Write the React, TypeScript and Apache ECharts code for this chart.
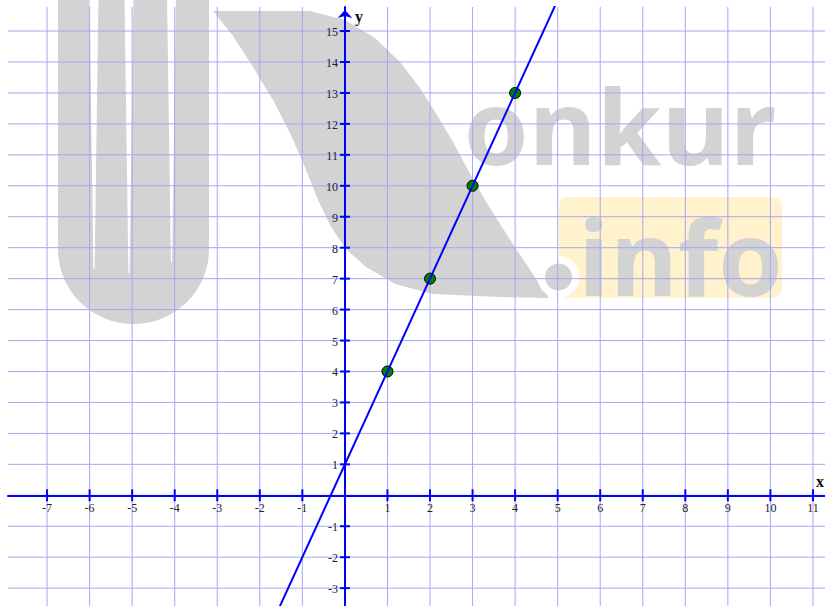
import React, { useEffect, useRef } from "react";
import * as echarts from "echarts";

// ---- data ----
const xTickValues = [-7, -6, -5, -4, -3, -2, -1, 1, 2, 3, 4, 5, 6, 7, 8, 9, 10, 11];
const yTickValues = [-3, -2, -1, 1, 2, 3, 4, 5, 6, 7, 8, 9, 10, 11, 12, 13, 14, 15];
const xGridValues = [-7, -6, -5, -4, -3, -2, -1, 0, 1, 2, 3, 4, 5, 6, 7, 8, 9, 10, 11];
const yGridValues = [-3, -2, -1, 0, 1, 2, 3, 4, 5, 6, 7, 8, 9, 10, 11, 12, 13, 14, 15];
const pointsX = [1, 2, 3, 4];
const pointsY = [4, 7, 10, 13];
const lineX = [-2, 5];
const lineY = [-5, 16];

// visible window of the axes
const XMIN = -7.918;
const XMAX = 11.283;
const YMIN = -3.577;
const YMAX = 15.777;

const GRID_COLOR = "#a6a6f6";
const AXIS_COLOR = "#0000ff";
const WM = "#d3d3d3";
const LABEL_FONT = "Liberation Serif";

export default function App() {
  const ref = useRef<HTMLDivElement>(null);

  useEffect(() => {
    if (!ref.current) return;
    const chart = echarts.init(ref.current, undefined, { renderer: "svg" });

    const slit = (cx: number, bottom: number) => ({
      type: "polygon",
      z: 0,
      silent: true,
      shape: {
        points: [
          [cx - 4.5, -5],
          [cx + 4.5, -5],
          [cx + 0.6, bottom],
          [cx - 0.6, bottom],
        ],
      },
      style: { fill: "#ffffff" },
    });

    const option: any = {
      animation: false,
      backgroundColor: "#ffffff",
      grid: {
        left: 8,
        top: 7,
        right: 0,
        bottom: 0,
        containLabel: false,
        outerBoundsMode: "none",
      },
      graphic: {
        elements: [
          {
            type: "rect",
            z: 0,
            silent: true,
            shape: { x: 58, y: -20, width: 151, height: 344, r: [0, 0, 75, 75] },
            style: { fill: WM },
          },
          slit(94, 269),
          slit(129, 273),
          slit(171.5, 262),
          {
            type: "polygon",
            z: 0,
            silent: true,
            shape: {
              points: [
                [213, 11], [310, 11], [345, 20], [375, 38], [400, 62], [420, 88],
                [437, 115], [453, 142], [468, 170], [485, 200], [507, 235],
                [525, 262], [540, 285], [549, 298], [500, 297], [433, 294],
                [395, 284], [366, 267], [345, 248], [330, 225], [318, 200],
                [305, 167], [290, 133], [273, 100], [253, 67], [233, 36],
              ],
            },
            style: { fill: WM },
          },
          {
            type: "text",
            z: 0,
            silent: true,
            x: 464,
            y: 124,
            style: {
              text: "onkur",
              fontFamily: "Open Sans",
              fontWeight: "bold",
              fontSize: 104,
              fill: WM,
              align: "left",
              verticalAlign: "middle",
            },
          },
          {
            type: "rect",
            z: 0,
            silent: true,
            shape: { x: 559, y: 197, width: 223, height: 101, r: 9 },
            style: { fill: "#fff2cc" },
          },
          {
            type: "circle",
            z: 0,
            silent: true,
            shape: { cx: 558.5, cy: 277, r: 21 },
            style: { fill: "#ffffff" },
          },
          {
            type: "circle",
            z: 0,
            silent: true,
            shape: { cx: 558.5, cy: 277, r: 13.5 },
            style: { fill: WM },
          },
          {
            type: "text",
            z: 0,
            silent: true,
            x: 578,
            y: 255,
            style: {
              text: "info",
              fontFamily: "Open Sans",
              fontWeight: "bold",
              fontSize: 104,
              fill: WM,
              align: "left",
              verticalAlign: "middle",
            },
          },
        ],
      },
      xAxis: {
        type: "value",
        min: XMIN,
        max: XMAX,
        z: 5,
        name: "x",
        nameLocation: "end",
        nameGap: -9,
        nameTextStyle: {
          fontFamily: LABEL_FONT,
          fontWeight: "bold",
          fontSize: 16,
          color: "#111",
          align: "left",
          verticalAlign: "bottom",
          padding: [0, 0, 6, 0],
        },
        axisLine: { onZero: true, lineStyle: { color: AXIS_COLOR, width: 2 } },
        axisTick: { show: false },
        splitLine: { show: false },
        axisLabel: { show: false },
      },
      yAxis: {
        type: "value",
        min: YMIN,
        max: YMAX,
        z: 5,
        name: "y",
        nameLocation: "end",
        nameGap: -9,
        nameTextStyle: {
          fontFamily: LABEL_FONT,
          fontWeight: "bold",
          fontSize: 16,
          color: "#111",
          align: "left",
          verticalAlign: "middle",
          padding: [0, 0, 0, 10],
        },
        axisLine: {
          onZero: true,
          symbol: ["none", "arrow"],
          symbolSize: [11, 8],
          symbolOffset: [0, -3],
          lineStyle: { color: AXIS_COLOR, width: 2 },
        },
        axisTick: { show: false },
        splitLine: { show: false },
        axisLabel: { show: false },
      },
      series: [
        {
          type: "custom",
          name: "vgrid",
          silent: true,
          z: 1,
          encode: { x: 0, y: 1 },
          data: xGridValues.map((v) => [v, 0]),
          renderItem: (_p: any, api: any) => {
            const v = api.value(0);
            const a = api.coord([v, YMIN]);
            const b = api.coord([v, YMAX]);
            return {
              type: "line",
              shape: { x1: a[0], y1: a[1], x2: b[0], y2: b[1] },
              style: { stroke: GRID_COLOR, lineWidth: 1 },
            };
          },
        },
        {
          type: "custom",
          name: "hgrid",
          silent: true,
          z: 1,
          encode: { x: 0, y: 1 },
          data: yGridValues.map((v) => [0, v]),
          renderItem: (_p: any, api: any) => {
            const v = api.value(1);
            const a = api.coord([XMIN, v]);
            const b = api.coord([XMAX, v]);
            return {
              type: "line",
              shape: { x1: a[0], y1: a[1], x2: b[0], y2: b[1] },
              style: { stroke: GRID_COLOR, lineWidth: 1 },
            };
          },
        },
        {
          type: "custom",
          name: "xticks",
          silent: true,
          z: 6,
          encode: { x: 0, y: 1 },
          data: xTickValues.map((v) => [v, 0]),
          renderItem: (_p: any, api: any) => {
            const v = api.value(0);
            const c = api.coord([v, 0]);
            return {
              type: "group",
              children: [
                {
                  type: "line",
                  shape: { x1: c[0], y1: c[1] - 6, x2: c[0], y2: c[1] + 6 },
                  style: { stroke: AXIS_COLOR, lineWidth: 2 },
                },
                {
                  type: "text",
                  x: c[0],
                  y: c[1] + 13,
                  style: {
                    text: String(v),
                    fontFamily: LABEL_FONT,
                    fontSize: 12,
                    fill: "#222",
                    align: "center",
                    verticalAlign: "middle",
                  },
                },
              ],
            };
          },
        },
        {
          type: "custom",
          name: "yticks",
          silent: true,
          z: 6,
          encode: { x: 0, y: 1 },
          data: yTickValues.map((v) => [0, v]),
          renderItem: (_p: any, api: any) => {
            const v = api.value(1);
            const c = api.coord([0, v]);
            return {
              type: "group",
              children: [
                {
                  type: "line",
                  shape: { x1: c[0] - 5, y1: c[1], x2: c[0] + 5, y2: c[1] },
                  style: { stroke: AXIS_COLOR, lineWidth: 2 },
                },
                {
                  type: "text",
                  x: c[0] - 7,
                  y: c[1] + 1,
                  style: {
                    text: String(v),
                    fontFamily: LABEL_FONT,
                    fontSize: 12,
                    fill: "#222",
                    align: "right",
                    verticalAlign: "middle",
                  },
                },
              ],
            };
          },
        },
        {
          type: "scatter",
          name: "points",
          z: 7,
          symbol: "circle",
          symbolSize: 11,
          itemStyle: { color: "#008000", borderColor: "#000000", borderWidth: 1, opacity: 1 },
          data: pointsX.map((x, i) => [x, pointsY[i]]),
        },
        {
          type: "line",
          name: "y = 3x + 1",
          z: 8,
          clip: true,
          showSymbol: false,
          symbol: "none",
          lineStyle: { color: AXIS_COLOR, width: 2 },
          data: lineX.map((x, i) => [x, lineY[i]]),
        },
      ],
    };

    chart.setOption(option);
    return () => chart.dispose();
  }, []);

  return (
    <div
      ref={ref}
      style={{ position: "absolute", left: 0, top: 0, width: 825, height: 606 }}
    />
  );
}
